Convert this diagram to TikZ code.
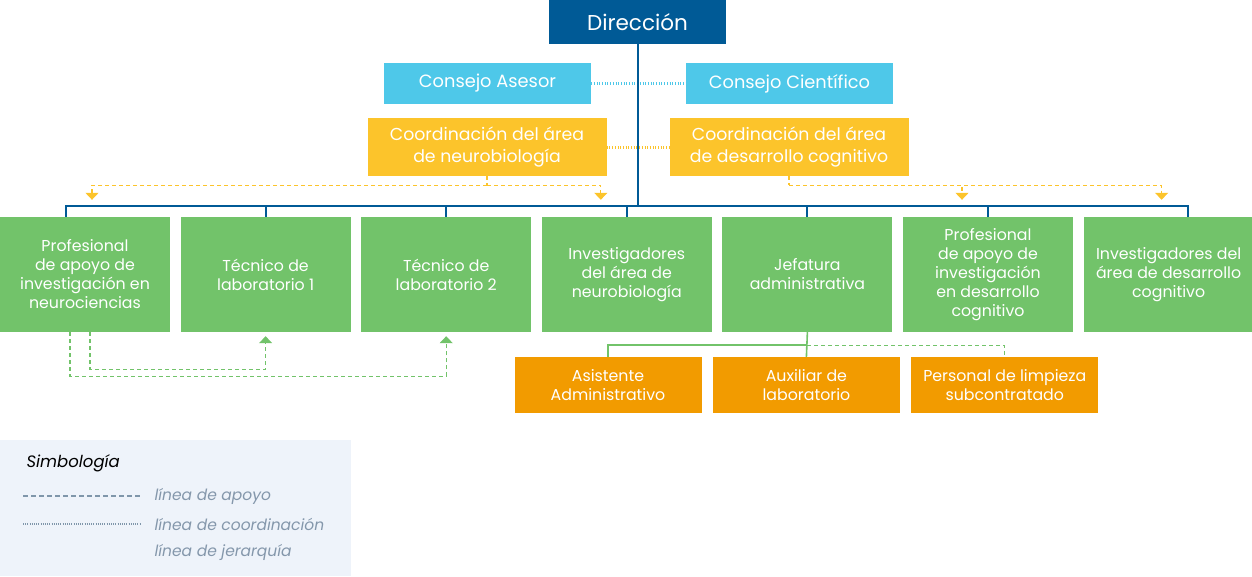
\documentclass[tikz,border=0pt]{standalone}
\usepackage{fontspec}
\setmainfont{Poppins}
\usetikzlibrary{arrows.meta, positioning}
\definecolor{dircolor}{HTML}{005A96}
\definecolor{consejocolor}{HTML}{4EC8E9}
\definecolor{coordcolor}{HTML}{FCC42B}
\definecolor{areacolor}{HTML}{72C36A}
\definecolor{apoyocolor}{HTML}{F29B00}
\definecolor{legendbg}{HTML}{EEF3FA}
\definecolor{legendtext}{HTML}{8497AB}
\definecolor{legendline}{HTML}{7F96AA}

\begin{document}
\begin{tikzpicture}[
    x=1pt, y=-1pt,
    box/.style={rectangle, inner sep=0pt, align=center, text=white, font=\fontsize{15.8}{19}\selectfont},
    direccion/.style={box, fill=dircolor, minimum width=177pt, minimum height=44pt, font=\fontsize{21.5}{24}\selectfont},
    consejo/.style={box, fill=consejocolor, minimum width=207pt, minimum height=41pt, font=\fontsize{17.8}{20}\selectfont},
    coord/.style={box, fill=coordcolor, minimum width=239pt, minimum height=58pt, font=\fontsize{17.3}{22}\selectfont},
    area/.style={box, fill=areacolor, minimum width=170pt, minimum height=115pt},
    sub/.style={box, fill=apoyocolor, minimum width=187pt, minimum height=56pt},
    hier/.style={dircolor, line width=2pt},
    hierg/.style={areacolor, line width=1.6pt},
    dotb/.style={consejocolor, line width=3pt, dash pattern=on 1pt off 1.7pt},
    doty/.style={coordcolor, line width=3pt, dash pattern=on 1pt off 1.7pt},
    apoyoy/.style={coordcolor, line width=1.2pt, dash pattern=on 4pt off 3pt},
    apoyog/.style={areacolor, line width=1.2pt, dash pattern=on 4pt off 3pt},
    tip/.style={-{Triangle[width=13pt, length=7pt]}},
    legtext/.style={anchor=west, text=legendtext, font=\fontsize{15.5}{18}\selectfont\itshape}
]
\useasboundingbox (0,0) rectangle (1252,576);

% Top levels
\node[direccion] (dir) at (637.5,22) {Dirección};
\node[consejo] (asesor) at (487.5,83.5) {Consejo Asesor};
\node[consejo] (cientifico) at (789.5,83.5) {Consejo Científico};
\node[coord] (coordneuro) at (487,147) {Coordinación del área\\de neurobiología};
\node[coord] (coorddes) at (789,147) {Coordinación del área\\de desarrollo cognitivo};

% Area row
\node[area] (prof1) at (85,274.5) {Profesional\\de apoyo de\\investigación en\\neurociencias};
\node[area, right=10.2pt of prof1] (tec1) {Técnico de\\laboratorio 1};
\node[area, right=10.2pt of tec1] (tec2) {Técnico de\\laboratorio 2};
\node[area, right=10.2pt of tec2] (invneuro) {Investigadores\\del área de\\neurobiología};
\node[area, right=10.2pt of invneuro] (jefatura) {Jefatura\\administrativa};
\node[area, right=10.2pt of jefatura] (prof2) {Profesional\\de apoyo de\\investigación\\en desarrollo\\cognitivo};
\node[area, right=10.2pt of prof2] (invdes) {Investigadores del\\área de desarrollo\\cognitivo};

% Administrative support
\node[sub] (asist) at (608,385) {Asistente\\Administrativo};
\node[sub, right=11pt of asist] (auxlab) {Auxiliar de\\laboratorio};
\node[sub, right=11pt of auxlab] (limpieza) {Personal de limpieza\\subcontratado};

% Coordination lines
\draw[dotb] (asesor) -- (cientifico);
\draw[doty] (coordneuro) -- (coorddes);

% Hierarchy
\coordinate (bar) at (637.5,206);
\draw[hier] (dir.south) -- (dir.south |- bar);
\draw[hier] ([xshift=-19pt]prof1.north) |- (bar) -| ([xshift=19pt]invdes.north);
\foreach \n in {tec1,tec2,invneuro,jefatura,prof2}
    \draw[hier] (\n.north) -- (\n.north |- bar);

\coordinate (jb) at ([yshift=-13pt]jefatura.south);
\draw[hierg] (jefatura.south) -- (auxlab.north);
\draw[hierg] (jb) -| (asist.north);
\draw[apoyog] (jb) -| (limpieza.north);

% Support lines
\draw[apoyoy] (coordneuro.south) -- ++(0,9) coordinate (yn);
\draw[apoyoy, tip] (yn) -| ([shift={(7pt,17pt)}]prof1.north);
\draw[apoyoy, tip] (yn) -| ([shift={(-26pt,17pt)}]invneuro.north);
\draw[apoyoy] (coorddes.south) -- ++(0,9) coordinate (yd);
\draw[apoyoy, tip] (yd) -| ([shift={(-26pt,17pt)}]prof2.north);
\draw[apoyoy, tip] (yd) -| ([shift={(-7pt,17pt)}]invdes.north);

\draw[apoyog, tip] ([xshift=5pt]prof1.south) -- ++(0,37) -| ([yshift=-4pt]tec1.south);
\draw[apoyog, tip] ([xshift=-15pt]prof1.south) -- ++(0,44) -| ([yshift=-4pt]tec2.south);

% Legend
\node[fill=legendbg, minimum width=351pt, minimum height=136pt, inner sep=0pt, anchor=north west] (legend) at (0,440) {};
\node[anchor=west, font=\fontsize{16.5}{20}\selectfont\itshape] (simb) at (23,463) {Simbología};
\node[legtext] (lapoyo) at (151,496) {línea de apoyo};
\node[legtext] (lcoord) at (151,524) {línea de coordinación};
\node[legtext] (ljer) at (151,552) {línea de jerarquía};
\draw[legendline, line width=2pt, dash pattern=on 5pt off 3pt] (23,496) -- ([xshift=-11pt]lapoyo.west);
\draw[legendline, line width=1.6pt, dash pattern=on 1pt off 1.2pt] (23,524) -- ([xshift=-11pt]lcoord.west);

\end{tikzpicture}
\end{document}
